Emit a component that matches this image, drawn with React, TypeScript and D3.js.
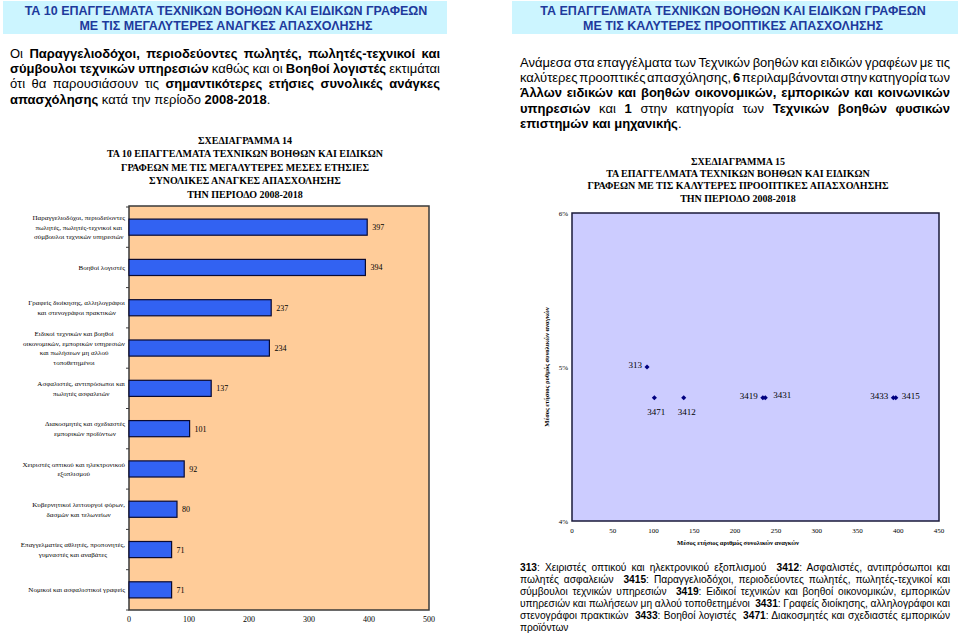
import React, { useEffect, useRef } from "react";
import * as d3 from "d3";

// ---------- DATA ----------
const barCategories: string[][] = [
  ["Παραγγελιοδόχοι, περιοδεύοντες", "πωλητές, πωλητές-τεχνικοί και", "σύμβουλοι τεχνικών υπηρεσιών"],
  ["Βοηθοί λογιστές"],
  ["Γραφείς διοίκησης, αλληλογράφοι", "και στενογράφοι πρακτικών"],
  ["Ειδικοί τεχνικών και βοηθοί", "οικονομικών, εμπορικών υπηρεσιών", "και πωλήσεων μη αλλού", "τοποθετημένοι"],
  ["Ασφαλιστές, αντιπρόσωποι και", "πωλητές ασφαλειών"],
  ["Διακοσμητές και σχεδιαστές", "εμπορικών προϊόντων"],
  ["Χειριστές οπτικού και ηλεκτρονικού", "εξοπλισμού"],
  ["Κυβερνητικοί λειτουργοί φόρων,", "δασμών και τελωνείων"],
  ["Επαγγελματίες αθλητές, προπονητές,", "γυμναστές και αναβάτες"],
  ["Νομικοί και ασφαλιστικοί γραφείς"],
];
const barValues: number[] = [397, 394, 237, 234, 137, 101, 92, 80, 71, 71];
const barTicks: number[] = [0, 100, 200, 300, 400, 500];

const scatterCodes: string[] = ["313", "3471", "3412", "3419", "3431", "3433", "3415"];
const scatterX: number[] = [92, 101, 137, 234, 237, 394, 397];
const scatterY: number[] = [0.05, 0.048, 0.048, 0.048, 0.048, 0.048, 0.048];
const scatterXTicks: number[] = [0, 50, 100, 150, 200, 250, 300, 350, 400, 450];
const scatterYTicks: number[] = [0.04, 0.05, 0.06];

const leftHeader: string[] = ["ΤΑ 10 ΕΠΑΓΓΕΛΜΑΤΑ ΤΕΧΝΙΚΩΝ ΒΟΗΘΩΝ ΚΑΙ ΕΙΔΙΚΩΝ ΓΡΑΦΕΩΝ", "ΜΕ ΤΙΣ ΜΕΓΑΛΥΤΕΡΕΣ ΑΝΑΓΚΕΣ ΑΠΑΣΧΟΛΗΣΗΣ"];
const rightHeader: string[] = ["ΤΑ ΕΠΑΓΓΕΛΜΑΤΑ ΤΕΧΝΙΚΩΝ ΒΟΗΘΩΝ ΚΑΙ ΕΙΔΙΚΩΝ ΓΡΑΦΕΩΝ", "ΜΕ ΤΙΣ ΚΑΛΥΤΕΡΕΣ ΠΡΟΟΠΤΙΚΕΣ ΑΠΑΣΧΟΛΗΣΗΣ"];

const chart14Title: string[] = [
  "ΣΧΕΔΙΑΓΡΑΜΜΑ 14",
  "ΤΑ 10 ΕΠΑΓΓΕΛΜΑΤΑ ΤΕΧΝΙΚΩΝ ΒΟΗΘΩΝ ΚΑΙ ΕΙΔΙΚΩΝ",
  "ΓΡΑΦΕΩΝ ΜΕ ΤΙΣ ΜΕΓΑΛΥΤΕΡΕΣ ΜΕΣΕΣ ΕΤΗΣΙΕΣ",
  "ΣΥΝΟΛΙΚΕΣ ΑΝΑΓΚΕΣ ΑΠΑΣΧΟΛΗΣΗΣ",
  "ΤΗΝ ΠΕΡΙΟΔΟ 2008-2018",
];
const chart15Title: string[] = [
  "ΣΧΕΔΙΑΓΡΑΜΜΑ 15",
  "ΤΑ ΕΠΑΓΓΕΛΜΑΤΑ ΤΕΧΝΙΚΩΝ ΒΟΗΘΩΝ ΚΑΙ ΕΙΔΙΚΩΝ",
  "ΓΡΑΦΕΩΝ ΜΕ ΤΙΣ ΚΑΛΥΤΕΡΕΣ ΠΡΟΟΠΤΙΚΕΣ ΑΠΑΣΧΟΛΗΣΗΣ",
  "ΤΗΝ ΠΕΡΙΟΔΟ 2008-2018",
];
const scatterXTitle = "Μέσος ετήσιος αριθμός συνολικών αναγκών";
const scatterYTitle = "Μέσος ετήσιος ρυθμός συνολικών αναγκών";

type Seg = [string, boolean];
const leftPara: Seg[][] = [
  [["Οι ", false], ["Παραγγελιοδόχοι, περιοδεύοντες πωλητές, πωλητές-τεχνικοί και", true]],
  [["σύμβουλοι τεχνικών υπηρεσιών", true], [" καθώς και οι ", false], ["Βοηθοί λογιστές", true], [" εκτιμάται", false]],
  [["ότι θα παρουσιάσουν τις ", false], ["σημαντικότερες ετήσιες συνολικές ανάγκες", true]],
  [["απασχόλησης", true], [" κατά την περίοδο ", false], ["2008-2018", true], [".", false]],
];
const rightPara: Seg[][] = [
  [["Ανάμεσα στα επαγγέλματα των Τεχνικών βοηθών και ειδικών γραφέων με τις", false]],
  [["καλύτερες προοπτικές απασχόλησης, ", false], ["6", true], [" περιλαμβάνονται στην κατηγορία των", false]],
  [["Άλλων ειδικών και βοηθών οικονομικών, εμπορικών και κοινωνικών", true]],
  [["υπηρεσιών", true], [" και ", false], ["1", true], [" στην κατηγορία των ", false], ["Τεχνικών βοηθών φυσικών", true]],
  [["επιστημών και μηχανικής", true], [".", false]],
];
const notePara: Seg[][] = [
  [["313", true], [": Χειριστές οπτικού και ηλεκτρονικού εξοπλισμού  ", false], ["3412", true], [": Ασφαλιστές, αντιπρόσωποι και", false]],
  [["πωλητές ασφαλειών  ", false], ["3415", true], [": Παραγγελιοδόχοι, περιοδεύοντες πωλητές, πωλητές-τεχνικοί και", false]],
  [["σύμβουλοι τεχνικών υπηρεσιών  ", false], ["3419", true], [": Ειδικοί τεχνικών και βοηθοί οικονομικών, εμπορικών", false]],
  [["υπηρεσιών και πωλήσεων μη αλλού τοποθετημένοι  ", false], ["3431", true], [": Γραφείς διοίκησης, αλληλογράφοι και", false]],
  [["στενογράφοι πρακτικών  ", false], ["3433", true], [": Βοηθοί λογιστές  ", false], ["3471", true], [": Διακοσμητές και σχεδιαστές εμπορικών", false]],
  [["προϊόντων", false]],
];

// ---------- STYLE / LAYOUT ----------
const SANS = "'Liberation Sans', Arial, sans-serif";
const SERIF = "'Liberation Serif', 'Times New Roman', serif";
const HEADER_BG = "#CCF5FF";
const HEADER_FG = "#1E3A9C";
const labelPlacement: Record<string, [number, number, string]> = {
  "313": [-5, 0, "end"],
  "3471": [2, 16, "middle"],
  "3412": [3, 16, "middle"],
  "3419": [-5, 0, "end"],
  "3431": [8, -1, "start"],
  "3433": [-5, 0, "end"],
  "3415": [6, 0, "start"],
};

function Para({ lines, x, width, y0, lh, size, cls }: { lines: Seg[][]; x: number; width: number; y0: number; lh: number; size: number; cls: string }) {
  return (
    <g fontFamily={SANS} fontSize={size} fill="#000">
      {lines.map((segs, i) => (
        <text
          key={i}
          x={x}
          y={y0 + i * lh}
          className={i < lines.length - 1 ? cls : undefined}
          data-width={width}
          style={{ whiteSpace: "pre" }}
        >
          {segs.map(([t, b], j) => (
            <tspan key={j} fontWeight={b ? "bold" : "normal"}>{t}</tspan>
          ))}
        </text>
      ))}
    </g>
  );
}

export default function App() {
  const ref = useRef<SVGSVGElement>(null);

  // bar chart geometry
  const bx = d3.scaleLinear().domain([0, 500]).range([129, 429]);
  const by = d3.scaleBand<number>().domain(d3.range(barValues.length)).range([207, 610]).paddingInner(0.6).paddingOuter(0.3);
  const step = by.step();

  // scatter geometry
  const sx = d3.scaleLinear().domain([0, 450]).range([572, 939]);
  const sy = d3.scaleLinear().domain([0.04, 0.06]).range([521, 213]);
  const marker = d3.symbol().type(d3.symbolSquare).size(13)();

  useEffect(() => {
    const svg = d3.select(ref.current);
    // justify lines
    svg.selectAll<SVGTextElement, unknown>("text.just").each(function () {
      const el = d3.select(this).attr("word-spacing", 0);
      const target = +(this.getAttribute("data-width") || 0);
      const w = this.getComputedTextLength();
      const spaces = ((this.textContent || "").match(/ /g) || []).length;
      if (spaces > 0) el.attr("word-spacing", (target - w) / spaces);
    });
    // category labels: centered lines, block right-aligned
    svg.selectAll<SVGGElement, unknown>("g.catlabel").each(function () {
      const texts = d3.select(this).selectAll<SVGTextElement, unknown>("text");
      let maxW = 0;
      texts.each(function () {
        maxW = Math.max(maxW, this.getComputedTextLength());
      });
      texts.attr("x", 125 - maxW / 2);
    });
  }, []);

  return (
    <svg ref={ref} width={960} height={633} style={{ position: "absolute", left: 0, top: 0, background: "#fff" }}>
      {/* headers */}
      <rect x={3} y={1} width={444} height={33} fill={HEADER_BG} />
      <rect x={512} y={1} width={446} height={33} fill={HEADER_BG} />
      <g fontFamily={SANS} fontWeight="bold" fontSize={12.5} fill={HEADER_FG} textAnchor="middle">
        {leftHeader.map((t, i) => (
          <text key={i} x={226} y={14.5 + i * 15}>{t}</text>
        ))}
        {rightHeader.map((t, i) => (
          <text key={i} x={733} y={14.5 + i * 15}>{t}</text>
        ))}
      </g>

      <Para lines={leftPara} x={10} width={430} y0={57.5} lh={15.4} size={13} cls="just" />
      <Para lines={rightPara} x={520} width={430} y0={66.5} lh={15.4} size={13} cls="just" />
      <Para lines={notePara} x={520} width={430} y0={570.5} lh={12.1} size={10.2} cls="just" />

      {/* chart titles */}
      <g fontFamily={SERIF} fontWeight="bold" fontSize={10} textAnchor="middle" fill="#000">
        {chart14Title.map((t, i) => (
          <text key={i} x={245} y={143.5 + i * 13.5}>{t}</text>
        ))}
        {chart15Title.map((t, i) => (
          <text key={i} x={738} y={164.5 + i * 12.4}>{t}</text>
        ))}
      </g>

      {/* bar chart */}
      <rect x={bx(0)} y={by.range()[0] - 1} width={bx(500) - bx(0)} height={by.range()[1] - by.range()[0] + 1} fill="#FFCC99" stroke="#3a3a3a" strokeWidth={1.5} />
      {d3.range(barValues.length + 1).map((i) => {
        const yy = by.range()[0] + i * step;
        return <line key={i} x1={bx(0) - 3} x2={bx(0)} y1={yy} y2={yy} stroke="#3a3a3a" strokeWidth={1} />;
      })}
      {barValues.map((v, i) => (
        <rect key={i} x={bx(0)} y={by(i)!} width={bx(v) - bx(0)} height={by.bandwidth()} fill="#3262F2" stroke="#0A0A30" strokeWidth={1.2} />
      ))}
      <g fontFamily={SERIF} fontSize={8} fill="#000">
        {barValues.map((v, i) => (
          <text key={i} x={bx(v) + 5} y={by(i)! + by.bandwidth() / 2 + 3}>{v}</text>
        ))}
        {barTicks.map((t) => (
          <text key={t} x={bx(t)} y={622} textAnchor="middle">{t}</text>
        ))}
      </g>
      <g fontFamily={SERIF} fontSize={7} fill="#000">
        {barCategories.map((lines, i) => {
          const cy = by(i)! + by.bandwidth() / 2;
          const lh = 9.7;
          const top = cy - ((lines.length - 1) * lh) / 2;
          return (
            <g key={i} className="catlabel">
              {lines.map((l, j) => (
                <text key={j} x={80} y={top + j * lh + 2.5} textAnchor="middle">{l}</text>
              ))}
            </g>
          );
        })}
      </g>

      {/* scatter chart */}
      <rect x={sx(0)} y={sy(0.06)} width={sx(450) - sx(0)} height={sy(0.04) - sy(0.06)} fill="#CCCCFF" stroke="#1a1a3a" strokeWidth={1.5} />
      <g fontFamily={SERIF} fontSize={7} fill="#000">
        {scatterXTicks.map((t) => (
          <text key={t} x={sx(t)} y={533} textAnchor="middle">{t}</text>
        ))}
        {scatterYTicks.map((t) => (
          <text key={t} x={568} y={sy(t) + 2.5} textAnchor="end">{d3.format(".0%")(t)}</text>
        ))}
      </g>
      <text x={738} y={545} textAnchor="middle" fontFamily={SERIF} fontWeight="bold" fontSize={6.5}>{scatterXTitle}</text>
      <text transform={`translate(549,${sy(0.05)}) rotate(-90)`} textAnchor="middle" fontFamily={SERIF} fontWeight="bold" fontSize={6.5}>{scatterYTitle}</text>
      {scatterX.map((v, i) => (
        <path key={i} d={marker!} transform={`translate(${sx(v)},${sy(scatterY[i])}) rotate(45)`} fill="#000080" />
      ))}
      <g fontFamily={SERIF} fontSize={9} fill="#000">
        {scatterCodes.map((c, i) => {
          const [dx, dy, anchor] = labelPlacement[c];
          return (
            <text key={c} x={sx(scatterX[i]) + dx} y={sy(scatterY[i]) + dy + 1} textAnchor={anchor}>{c}</text>
          );
        })}
      </g>
    </svg>
  );
}
